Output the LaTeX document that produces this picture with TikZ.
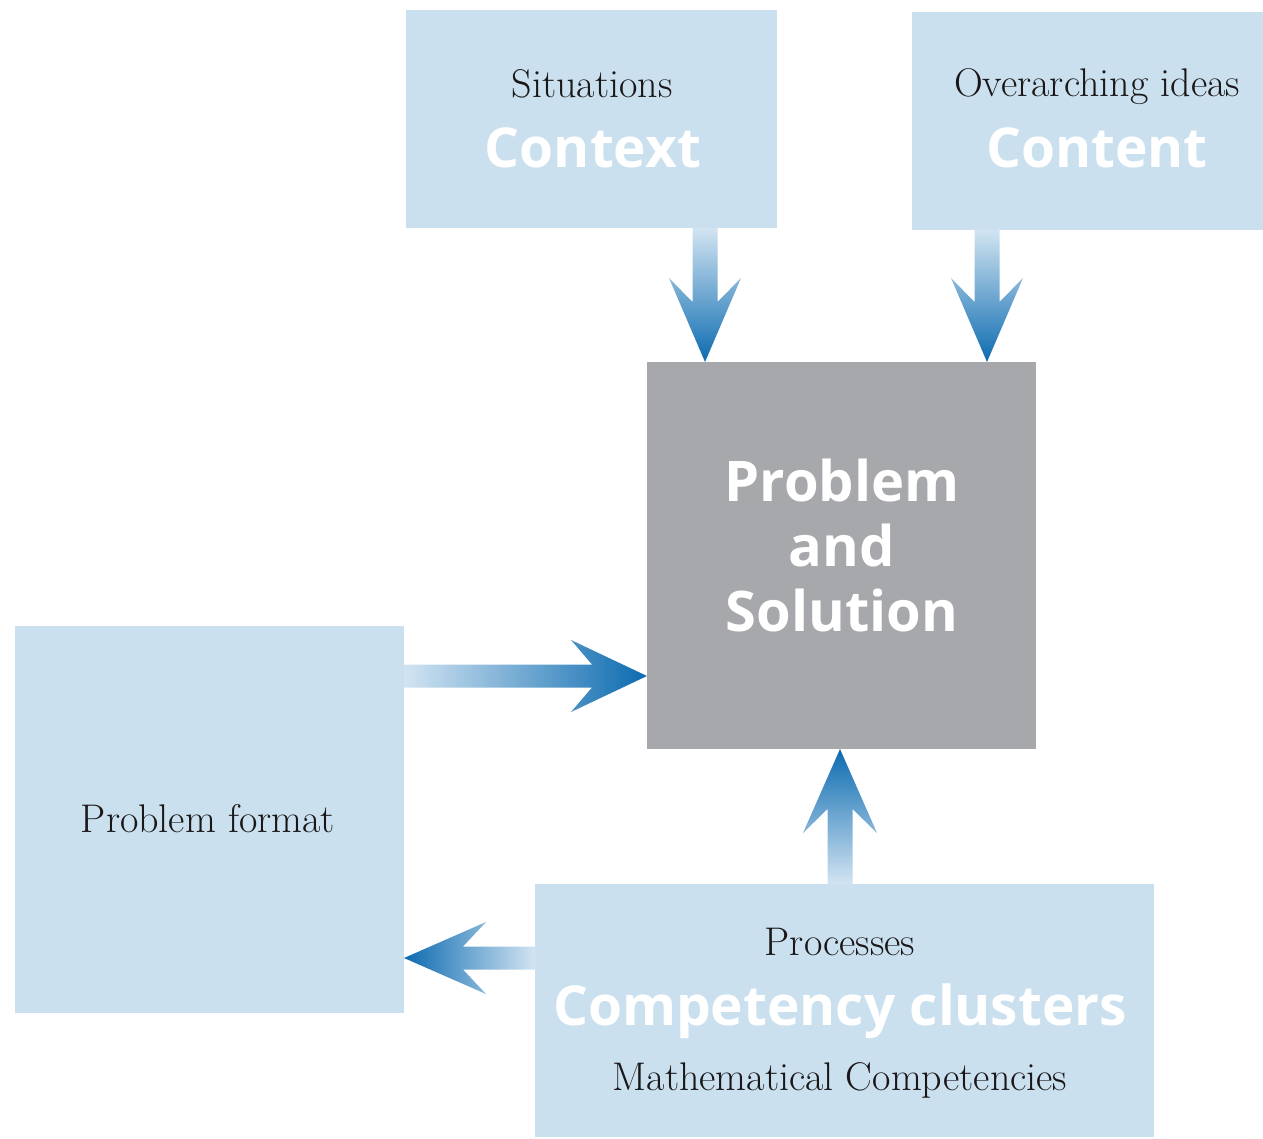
\documentclass[tikz,border=0pt]{standalone}
\usepackage{fontspec}
\newfontfamily\headfont{Open Sans}
\usetikzlibrary{calc}

\definecolor{boxblue}{HTML}{CBE0EF}
\definecolor{boxgray}{HTML}{A6A8AB}
\definecolor{arrowdark}{HTML}{0C6BB0}
\definecolor{arrowlight}{HTML}{D2E4F2}
\definecolor{ink}{HTML}{1A1718}

% Block arrows with a colour gradient running towards the tip.
% #1 = position across the arrow, #2 = source node, #3 = target node
\newcommand\arrowdown[3]{%
  \shade[top color=arrowlight,bottom color=arrowdark]
    let \p1=(#2.south), \p2=(#3.north) in
    ({#1-12.5pt},\y1) -- ({#1+12.5pt},\y1) -- ({#1+12.5pt},{\y2+60pt})
    -- ({#1+36pt},{\y2+84pt}) -- (#1,\y2) -- ({#1-36pt},{\y2+84pt})
    -- ({#1-12.5pt},{\y2+60pt}) -- cycle;}
\newcommand\arrowup[3]{%
  \shade[top color=arrowdark,bottom color=arrowlight]
    let \p1=(#2.north), \p2=(#3.south) in
    ({#1-12.5pt},\y1) -- ({#1+12.5pt},\y1) -- ({#1+12.5pt},{\y2-60pt})
    -- ({#1+37pt},{\y2-84pt}) -- (#1,\y2) -- ({#1-37pt},{\y2-84pt})
    -- ({#1-12.5pt},{\y2-60pt}) -- cycle;}
\newcommand\arrowright[3]{%
  \shade[left color=arrowlight,right color=arrowdark]
    let \p1=(#2.east), \p2=(#3.west) in
    (\x1,{#1+11.5pt}) -- ({\x2-55pt},{#1+11.5pt}) -- ({\x2-76pt},{#1+36pt})
    -- (\x2,#1) -- ({\x2-76pt},{#1-36pt}) -- ({\x2-55pt},{#1-11.5pt})
    -- (\x1,{#1-11.5pt}) -- cycle;}
\newcommand\arrowleft[3]{%
  \shade[left color=arrowdark,right color=arrowlight]
    let \p1=(#2.west), \p2=(#3.east) in
    (\x1,{#1+11.5pt}) -- ({\x2+59pt},{#1+11.5pt}) -- ({\x2+82pt},{#1+36pt})
    -- (\x2,#1) -- ({\x2+82pt},{#1-36pt}) -- ({\x2+59pt},{#1-11.5pt})
    -- (\x1,{#1-11.5pt}) -- cycle;}

\tikzset{
  panel/.style={fill=boxblue, draw=none, inner sep=0pt, outer sep=0pt},
  core/.style={fill=boxgray, draw=none, inner sep=0pt, outer sep=0pt},
  label/.style={font=\fontsize{40}{44}\selectfont, text=ink, inner sep=0pt, anchor=base},
  heading/.style={font=\headfont\bfseries\fontsize{55}{60}\selectfont, text=white, inner sep=0pt, anchor=base},
  coreheading/.style={heading, font=\headfont\bfseries\fontsize{56}{60}\selectfont},
}

\begin{document}
\begin{tikzpicture}[x=1pt,y=1pt]
\useasboundingbox (0,0) rectangle (1263,-1139);

% boxes
\node[panel, minimum width=371, minimum height=218] (ctx) at (591.5,-119) {};
\node[panel, minimum width=351, minimum height=218] (cnt) at (1087.5,-121) {};
\node[core,  minimum width=389, minimum height=387] (prob) at (841.5,-555.5) {};
\node[panel, minimum width=389, minimum height=387] (fmt) at (209.5,-819.5) {};
\node[panel, minimum width=619, minimum height=253] (proc) at (844.5,-1010.5) {};

% box texts
\node[label] (ctxsub) at (592,-98) {Situations};
\node[heading] (ctxhead) at (593,-168) {Context};
\node[label] (cntsub) at (1097,-97) {Overarching ideas};
\node[heading] (cnthead) at (1097,-168) {Content};
\node[coreheading] (probA) at (842,-501) {Problem};
\node[coreheading] (probB) at (842,-566) {and};
\node[coreheading] (probC) at (842,-631) {Solution};
\node[label] (fmttext) at (208,-832) {Problem format};
\node[label] (procsub) at (840,-955) {Processes};
\node[heading] (prochead) at (840,-1025) {Competency clusters};
\node[label] (procfoot) at (840,-1090) {Mathematical Competencies};

% arrows
\arrowdown{705pt}{ctx}{prob}
\arrowdown{987pt}{cnt}{prob}
\arrowright{-676pt}{fmt}{prob}
\arrowup{840pt}{proc}{prob}
\arrowleft{-958pt}{proc}{fmt}
\end{tikzpicture}
\end{document}
